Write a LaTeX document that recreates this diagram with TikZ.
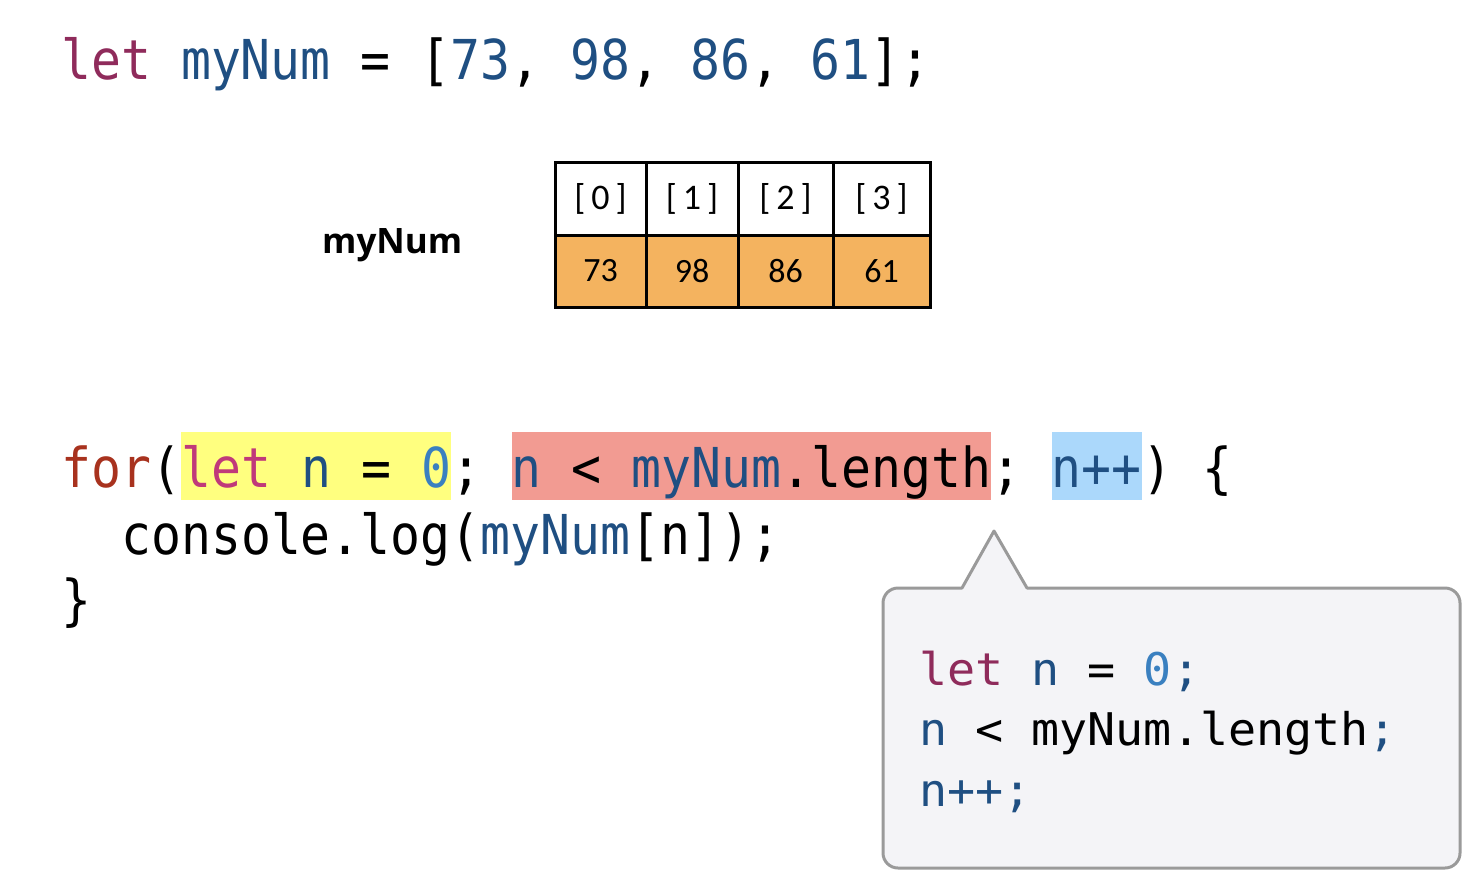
\documentclass[tikz,border=0pt]{standalone}
\usepackage{fontspec}
\newfontfamily\codefont[FakeStretch=0.905]{DejaVu Sans Mono}
\newfontfamily\callfont[FakeStretch=1.037]{DejaVu Sans Mono}
\newfontfamily\tabfont{Carlito}
\newfontfamily\labfont{Open Sans}
\definecolor{kwc}{HTML}{8F2B5B}
\definecolor{kwpink}{HTML}{C0397A}
\definecolor{forc}{HTML}{A8321E}
\definecolor{idc}{HTML}{1F4F82}
\definecolor{numl}{HTML}{3A80C0}
\definecolor{hlyellow}{HTML}{FFFF7F}
\definecolor{hlred}{HTML}{F29B92}
\definecolor{hlblue}{HTML}{ABD8FB}
\definecolor{orangec}{HTML}{F4B35F}
\definecolor{callfill}{HTML}{F4F4F7}
\definecolor{callborder}{HTML}{9A9A9A}
\begin{document}
\begin{tikzpicture}[x=1pt,y=-1pt,
  code/.style={inner sep=0pt, anchor=base west, font=\codefont\fontsize{55}{66}\selectfont},
  callcode/.style={inner sep=0pt, anchor=base west, font=\callfont\fontsize{45}{61}\selectfont},
  hlbox/.style={fill=#1, text height=55pt, text depth=13pt},
  hcell/.style={draw=black, line width=3pt, fill=white, minimum height=73pt, inner sep=0pt, font=\tabfont\fontsize{36}{40}\selectfont},
  vcell/.style={draw=black, line width=3pt, fill=orangec, minimum height=72pt, inner sep=0pt, font=\tabfont\fontsize{34}{40}\selectfont},
  labstyle/.style={inner sep=0pt, anchor=base west, font=\labfont\bfseries\fontsize{35}{40}\selectfont},
  callbox/.style={draw=callborder, fill=callfill, line width=3pt, line join=round}
]
\useasboundingbox (0,0) rectangle (1482,894);
\def\cw{29.8pt}

% line 1
\node[code] (decl) at (61,79) {{\color{kwc}let} {\color{idc}myNum} = [{\color{idc}73}, {\color{idc}98}, {\color{idc}86}, {\color{idc}61}];};

% array table
\node[labstyle] (lab) at (322,253) {myNum};
\node[hcell, minimum width=91pt] (h0) at (600.5,198.5) {[\,0\,]};
\node[hcell, minimum width=92pt] (h1) at (692,198.5) {[\,1\,]};
\node[hcell, minimum width=95pt] (h2) at (785.5,198.5) {[\,2\,]};
\node[hcell, minimum width=97pt] (h3) at (881.5,198.5) {[\,3\,]};
\node[vcell, minimum width=91pt] (v0) at (600.5,271) {73};
\node[vcell, minimum width=92pt] (v1) at (692,271) {98};
\node[vcell, minimum width=95pt] (v2) at (785.5,271) {86};
\node[vcell, minimum width=97pt] (v3) at (881.5,271) {61};

% for loop
\node[code] (forkw) at (61,487) {{\color{forc}for}(};
\node[code, hlbox=hlyellow] (init) at (forkw.base east) {{\color{kwpink}let} {\color{idc}n} = {\color{numl}0}};
\node[code] (semi1) at (init.base east) {;};
\node[code, hlbox=hlred] (cond) at ([xshift=\cw]semi1.base east) {{\color{idc}n} < {\color{idc}myNum}.length};
\node[code] (semi2) at (cond.base east) {;};
\node[code, hlbox=hlblue] (incr) at ([xshift=\cw]semi2.base east) {{\color{idc}n++}};
\node[code] (close) at (incr.base east) {) \{};
\node[code] (body) at (121,554) {console.log({\color{idc}myNum}[n]);};
\node[code] (brace) at (61,619) {\}};

% callout
\draw[callbox] (1027,588) [rounded corners=15pt] -- (1460,588) -- (1460,868) -- (883,868) -- (883,588) [sharp corners] -- (962,588) -- (994,531) -- cycle;
\node[callcode] (c1) at (919,685) {{\color{kwc}let} {\color{idc}n} = {\color{numl}0}{\color{idc};}};
\node[callcode] (c2) at (919,745) {{\color{idc}n} < myNum.length{\color{idc};}};
\node[callcode] (c3) at (919,806) {{\color{idc}n++;}};
\end{tikzpicture}
\end{document}
